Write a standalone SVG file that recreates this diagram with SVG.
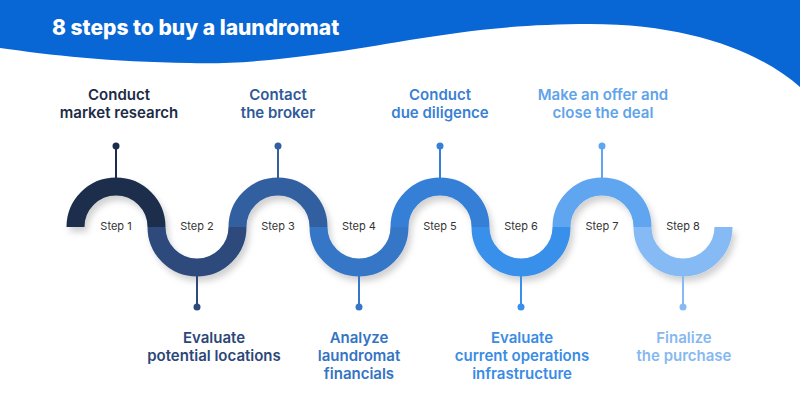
<svg xmlns="http://www.w3.org/2000/svg" width="800" height="402" viewBox="0 0 800 402">
<defs>
<filter id="sh" x="-20%" y="-20%" width="140%" height="160%">
<feDropShadow dx="3" dy="5" stdDeviation="3" flood-color="#000" flood-opacity="0.18"/>
</filter>
<style>
.seg{fill:none;stroke-width:18;stroke-linecap:butt}
.pin{stroke-width:2}
.step{font-family:Inter,"Noto Sans",sans-serif;font-size:11px;fill:#333;text-anchor:middle}
.lbl{font-family:Inter,"Noto Sans",sans-serif;font-size:15px;font-weight:600;text-anchor:middle}
.title{font-family:Inter,"Noto Sans",sans-serif;font-size:21px;font-weight:800;fill:#fff}
</style>
</defs>
<rect width="800" height="402" fill="#fff"/>
<path d="M0,0 H800 V87 C760,52 690,24 590,24 C470,24 400,44 320,54 C270,61 230,64 190,63 C110,62 50,55 0,48 Z" fill="#0866d5"/>
<text class="title" x="52" y="35">8 steps to buy a laundromat</text>

<g id="connectors" filter="url(#sh)">
<path class="seg" stroke="#1c2d4b" d="M75.5,227 A40.5,40.5 0 0 1 156.5,227"/>
<path class="seg" stroke="#2d4a7c" d="M156.5,227 A40.5,40.5 0 0 0 237.5,227"/>
<path class="seg" stroke="#335f9f" d="M237.5,227 A40.5,40.5 0 0 1 318.5,227"/>
<path class="seg" stroke="#3676c6" d="M318.5,227 A40.5,40.5 0 0 0 399.5,227"/>
<path class="seg" stroke="#3580d6" d="M399.5,227 A40.5,40.5 0 0 1 480.5,227"/>
<path class="seg" stroke="#3990ea" d="M480.5,227 A40.5,40.5 0 0 0 561.5,227"/>
<path class="seg" stroke="#5fa5f0" d="M561.5,227 A40.5,40.5 0 0 1 642.5,227"/>
<path class="seg" stroke="#85baf4" d="M642.5,227 A40.5,40.5 0 0 0 723.5,227"/>
</g>

<g id="step1">
<line class="pin" stroke="#1c2d4b" x1="116" y1="146" x2="116" y2="178"/><circle cx="116" cy="146" r="3.5" fill="#1c2d4b"/>
<text class="step" x="116" y="230">Step 1</text>
<text class="lbl" fill="#1c2b45" x="119" y="100">Conduct</text>
<text class="lbl" fill="#1c2b45" x="119" y="118">market research</text>
</g>
<g id="step2">
<line class="pin" stroke="#2d4a7c" x1="197" y1="276" x2="197" y2="307"/><circle cx="197" cy="307" r="3.5" fill="#2d4a7c"/>
<text class="step" x="197" y="230">Step 2</text>
<text class="lbl" fill="#2c4777" x="214" y="343">Evaluate</text>
<text class="lbl" fill="#2c4777" x="214" y="361">potential locations</text>
</g>
<g id="step3">
<line class="pin" stroke="#335f9f" x1="278" y1="146" x2="278" y2="178"/><circle cx="278" cy="146" r="3.5" fill="#335f9f"/>
<text class="step" x="278" y="230">Step 3</text>
<text class="lbl" fill="#2e5a98" x="278" y="100">Contact</text>
<text class="lbl" fill="#2e5a98" x="278" y="118">the broker</text>
</g>
<g id="step4">
<line class="pin" stroke="#3676c6" x1="359" y1="276" x2="359" y2="307"/><circle cx="359" cy="307" r="3.5" fill="#3676c6"/>
<text class="step" x="359" y="230">Step 4</text>
<text class="lbl" fill="#3474c2" x="359" y="343">Analyze</text>
<text class="lbl" fill="#3474c2" x="359" y="361">laundromat</text>
<text class="lbl" fill="#3474c2" x="359" y="379">financials</text>
</g>
<g id="step5">
<line class="pin" stroke="#3580d6" x1="440" y1="146" x2="440" y2="178"/><circle cx="440" cy="146" r="3.5" fill="#3580d6"/>
<text class="step" x="440" y="230">Step 5</text>
<text class="lbl" fill="#3a7fd3" x="440" y="100">Conduct</text>
<text class="lbl" fill="#3a7fd3" x="440" y="118">due diligence</text>
</g>
<g id="step6">
<line class="pin" stroke="#3990ea" x1="521" y1="276" x2="521" y2="307"/><circle cx="521" cy="307" r="3.5" fill="#3990ea"/>
<text class="step" x="521" y="230">Step 6</text>
<text class="lbl" fill="#3a8ce4" x="522" y="343">Evaluate</text>
<text class="lbl" fill="#3a8ce4" x="522" y="361">current operations</text>
<text class="lbl" fill="#3a8ce4" x="522" y="379">infrastructure</text>
</g>
<g id="step7">
<line class="pin" stroke="#5fa5f0" x1="602" y1="146" x2="602" y2="178"/><circle cx="602" cy="146" r="3.5" fill="#5fa5f0"/>
<text class="step" x="602" y="230">Step 7</text>
<text class="lbl" fill="#5fa3ea" x="603" y="100">Make an offer and</text>
<text class="lbl" fill="#5fa3ea" x="603" y="118">close the deal</text>
</g>
<g id="step8">
<line class="pin" stroke="#85baf4" x1="683" y1="276" x2="683" y2="307"/><circle cx="683" cy="307" r="3.5" fill="#85baf4"/>
<text class="step" x="683" y="230">Step 8</text>
<text class="lbl" fill="#86b8f0" x="684" y="343">Finalize</text>
<text class="lbl" fill="#86b8f0" x="684" y="361">the purchase</text>
</g>
</svg>
